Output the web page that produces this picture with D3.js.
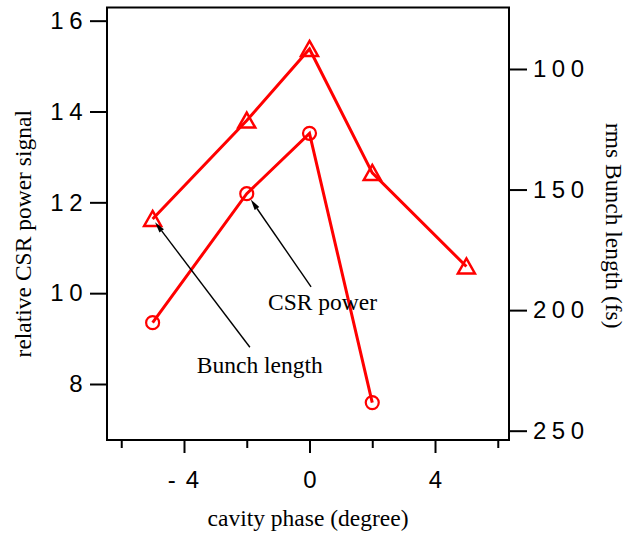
<!DOCTYPE html>
<html><head><meta charset="utf-8">
<script src="https://cdn.jsdelivr.net/npm/d3@7"></script>
<style>body{margin:0;background:#fff}svg{display:block}</style>
</head><body><svg id="c" width="629" height="533"></svg>
<script>
// ---- data ----
const phaseCSR = [-5, -2, 0, 2];
const csrPower = [9.35, 12.19, 13.52, 7.59];
const phaseBunch = [-5, -2, 0, 2, 5];
const bunchLength = [162.2, 121.4, 91.7, 143.1, 181.9];
const xTicksMajor = [-4, 0, 4];
const xTicksMinor = [-6, -2, 2, 6];
const leftTicks = [8, 10, 12, 14, 16];
const rightTicks = [100, 150, 200, 250];
const annLabels = ["CSR power", "Bunch length"];
const annTextPos = [[-1.32, 9.63], [-3.59, 8.25]];      // x (phase), y (left axis units)
const annTail = [[0.05, 10.14], [-1.90, 8.81]];          // x (phase), y (left axis units)
const annTargetIdx = [1, 0];                             // point index in target series

// ---- layout ----
const L = 107, R = 509, T = 7.5, B = 440;
const svg = d3.select("#c");
const x = d3.scaleLinear().domain([-6.454, 6.358]).range([L, R]);
const yL = d3.scaleLinear().domain([6.767, 16.29]).range([B, T]);
const yR = d3.scaleLinear().domain([253.86, 74.5]).range([B, T]);

const sansFont = "'Liberation Sans', Arial, sans-serif";
const serifFont = "'Liberation Serif', 'Times New Roman', serif";

// frame
svg.append("rect").attr("x", L).attr("y", T).attr("width", R - L).attr("height", B - T)
  .attr("fill", "none").attr("stroke", "#000").attr("stroke-width", 2);

function styleAxis(g) {
  g.select(".domain").remove();
  g.selectAll(".tick line").attr("stroke", "#000").attr("stroke-width", 2);
  g.selectAll(".tick text").attr("fill", "#000").style("font-family", sansFont)
    .style("font-size", "24px").style("letter-spacing", "5.5px");
}

// left axis
svg.append("g").attr("transform", `translate(${L},0)`)
  .call(d3.axisLeft(yL).tickValues(leftTicks).tickSize(17).tickPadding(2).tickFormat(d3.format("d")))
  .call(styleAxis);
// right axis
svg.append("g").attr("transform", `translate(${R},0)`)
  .call(d3.axisRight(yR).tickValues(rightTicks).tickSize(18).tickPadding(6).tickFormat(d3.format("d")))
  .call(styleAxis);
// bottom axis major
const bx = svg.append("g").attr("transform", `translate(0,${B})`)
  .call(d3.axisBottom(x).tickValues(xTicksMajor).tickSize(13).tickPadding(18)
    .tickFormat(d3.format("d")))
  .call(styleAxis);
bx.selectAll(".tick text").style("letter-spacing", "0px").each(function (d) {
  const t = d3.select(this);
  if (d < 0) {
    t.text(null);
    t.append("tspan").text("-");
    t.append("tspan").attr("dx", 10).text(String(Math.abs(d)));
    t.attr("dx", "-1px");
  }
});
// bottom axis minor
svg.append("g").attr("transform", `translate(0,${B})`)
  .call(d3.axisBottom(x).tickValues(xTicksMinor).tickSize(8).tickFormat(""))
  .call(styleAxis);

// axis titles
svg.append("text").attr("transform", `translate(31,${(T + B) / 2 + 10}) rotate(-90)`)
  .attr("text-anchor", "middle").style("font-family", serifFont).style("font-size", "23.5px")
  .text("relative CSR power signal");
svg.append("text").attr("transform", `translate(606,${(T + B) / 2 + 2}) rotate(90)`)
  .attr("text-anchor", "middle").style("font-family", serifFont).style("font-size", "23.5px")
  .text("rms Bunch length (fs)");
svg.append("text").attr("x", (L + R) / 2).attr("y", 526)
  .attr("text-anchor", "middle").style("font-family", serifFont).style("font-size", "23.5px")
  .text("cavity phase (degree)");

// data series
const red = "#ff0000";
const csrPts = phaseCSR.map((p, i) => [x(p), yL(csrPower[i])]);
const bunchPts = phaseBunch.map((p, i) => [x(p), yR(bunchLength[i])]);
const line = d3.line();
svg.append("path").attr("d", line(bunchPts)).attr("fill", "none").attr("stroke", red).attr("stroke-width", 3);
svg.append("path").attr("d", line(csrPts)).attr("fill", "none").attr("stroke", red).attr("stroke-width", 3);

svg.selectAll(".tri").data(bunchPts).enter().append("path")
  .attr("d", d => `M${d[0]},${d[1] - 8}L${d[0] + 8.5},${d[1] + 7}L${d[0] - 8.5},${d[1] + 7}Z`)
  .attr("fill", "none").attr("stroke", red).attr("stroke-width", 2.5).attr("stroke-linejoin", "miter");
svg.selectAll(".circ").data(csrPts).enter().append("circle")
  .attr("cx", d => d[0]).attr("cy", d => d[1]).attr("r", 6.5)
  .attr("fill", "none").attr("stroke", red).attr("stroke-width", 2.2);

// annotations
const targets = [csrPts, bunchPts];
const gaps = [7, 4];
annLabels.forEach((lab, i) => {
  const c = targets[i][annTargetIdx[i]];
  const tail = [x(annTail[i][0]), yL(annTail[i][1])];
  const dx = tail[0] - c[0], dy = tail[1] - c[1];
  const len = Math.hypot(dx, dy);
  const ux = dx / len, uy = dy / len;
  const tip = [c[0] + ux * gaps[i], c[1] + uy * gaps[i]];
  const headLen = 11, hw = 2.8;
  const base = [tip[0] + ux * headLen, tip[1] + uy * headLen];
  svg.append("line").attr("x1", tail[0]).attr("y1", tail[1]).attr("x2", base[0]).attr("y2", base[1])
    .attr("stroke", "#000").attr("stroke-width", 1.4);
  svg.append("path")
    .attr("d", `M${tip[0]},${tip[1]}L${base[0] - uy * hw},${base[1] + ux * hw}L${base[0] + uy * hw},${base[1] - ux * hw}Z`)
    .attr("fill", "#000");
  svg.append("text").attr("x", x(annTextPos[i][0])).attr("y", yL(annTextPos[i][1]))
    .style("font-family", serifFont).style("font-size", "23.5px").text(lab);
});
</script></body></html>
